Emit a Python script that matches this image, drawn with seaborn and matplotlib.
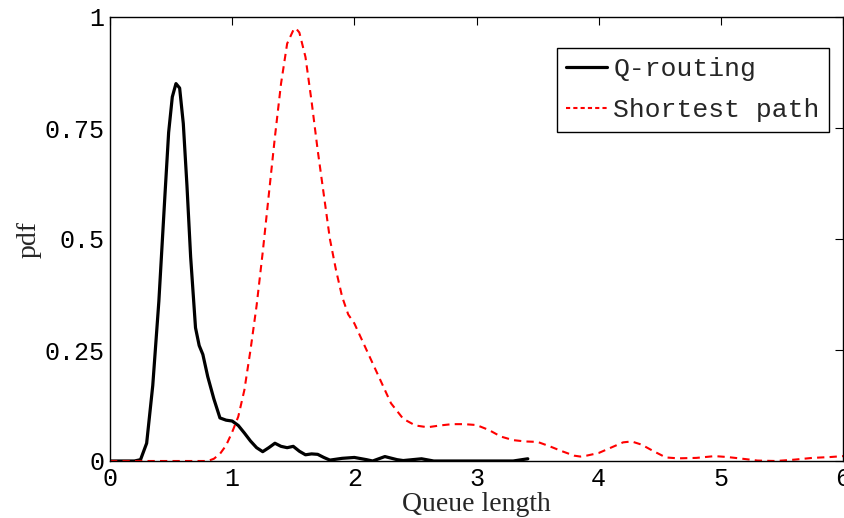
import numpy as np
import pandas as pd
import matplotlib
matplotlib.use("Agg")
import matplotlib.pyplot as plt
import seaborn as sns

# Q-routing pdf
q_x = [0.0, 0.2, 0.25, 0.3, 0.35, 0.4, 0.45, 0.48, 0.51, 0.54, 0.57, 0.6, 0.63, 0.66, 0.7, 0.73, 0.76,
       0.8, 0.85, 0.9, 0.95, 1.0, 1.05, 1.1, 1.15, 1.2, 1.25, 1.3, 1.35, 1.4, 1.45, 1.5,
       1.55, 1.6, 1.65, 1.7, 1.75, 1.8, 1.9, 2.0, 2.1, 2.15, 2.25, 2.35, 2.4, 2.55, 2.65,
       3.3, 3.42]
q_y = [0.0, 0.0, 0.003, 0.04, 0.17, 0.36, 0.6, 0.74, 0.82, 0.85, 0.84, 0.76, 0.62, 0.46, 0.3, 0.26, 0.24,
       0.19, 0.14, 0.097, 0.092, 0.09, 0.08, 0.063, 0.045, 0.03, 0.021, 0.03, 0.04, 0.033, 0.03, 0.033,
       0.022, 0.014, 0.016, 0.015, 0.008, 0.002, 0.006, 0.008, 0.003, 0.0, 0.01, 0.003, 0.001, 0.005, 0.0,
       0.0, 0.005]

# Shortest path pdf
s_x = [0.0, 0.8, 0.85, 0.9, 0.95, 1.0, 1.05, 1.1, 1.15, 1.2, 1.25, 1.3, 1.35, 1.4, 1.45, 1.5,
       1.52, 1.55, 1.6, 1.65, 1.7, 1.75, 1.8, 1.85, 1.9, 1.95, 2.0, 2.05, 2.1, 2.2, 2.3, 2.4,
       2.5, 2.6, 2.7, 2.8, 2.9, 3.0, 3.1, 3.2, 3.3, 3.4, 3.5, 3.6, 3.7, 3.8, 3.85, 3.9, 4.0,
       4.1, 4.2, 4.27, 4.35, 4.45, 4.55, 4.65, 4.8, 4.95, 5.05, 5.15, 5.3, 5.45, 5.6, 5.75, 5.9, 6.0]
s_y = [0.0, 0.0, 0.005, 0.016, 0.035, 0.065, 0.1, 0.16, 0.25, 0.35, 0.47, 0.6, 0.73, 0.85, 0.94, 0.97,
       0.975, 0.965, 0.91, 0.81, 0.7, 0.6, 0.5, 0.43, 0.37, 0.33, 0.31, 0.28, 0.25, 0.19, 0.13, 0.095,
       0.08, 0.076, 0.08, 0.083, 0.083, 0.081, 0.07, 0.055, 0.047, 0.044, 0.043, 0.033, 0.022, 0.012, 0.01, 0.012, 0.018,
       0.03, 0.042, 0.044, 0.037, 0.022, 0.008, 0.006, 0.007, 0.011, 0.009, 0.006, 0.001, 0.0, 0.003, 0.007, 0.009, 0.011]

x_ticks = [0, 1, 2, 3, 4, 5, 6]
y_ticks = [0, 0.25, 0.5, 0.75, 1]
y_tick_labels = ["0", "0.25", "0.5", "0.75", "1"]

sns.set_style("white")
plt.rcParams["font.family"] = ["Liberation Mono", "DejaVu Sans Mono"]

fig = plt.figure(figsize=(8.44, 5.18), dpi=100)
ax = fig.add_axes([110 / 844, 57 / 518, 733 / 844, 444 / 518])

df_q = pd.DataFrame({"x": q_x, "y": q_y})
df_s = pd.DataFrame({"x": s_x, "y": s_y})

sns.lineplot(data=df_q, x="x", y="y", ax=ax, color="black", linewidth=2.3,
             label="Q-routing", estimator=None, sort=False)
sns.lineplot(data=df_s, x="x", y="y", ax=ax, color="#ff0000", linewidth=1.5,
             label="Shortest path", estimator=None, sort=False, dashes=False)
ax.lines[1].set_dashes((3.5, 2.5))

ax.set_xlim(0, 6)
ax.set_ylim(0, 1)
ax.set_xticks(x_ticks)
ax.set_yticks(y_ticks)
ax.set_xticklabels([str(t) for t in x_ticks])
ax.set_yticklabels(y_tick_labels)
ax.tick_params(direction="in", length=6, width=0.8, top=True, right=True,
               labelsize=18, pad=4, colors="black")
for s in ax.spines.values():
    s.set_visible(True)
    s.set_color("black")
    s.set_linewidth(1.0)

ax.set_xlabel("Queue length", family=["Liberation Serif"], fontsize=20, labelpad=1)
ax.set_ylabel("pdf", family=["Liberation Serif"], fontsize=20, labelpad=2)

leg = ax.legend(loc="upper right", bbox_to_anchor=(0.981, 0.93), fontsize=19,
                frameon=True, fancybox=False, edgecolor="black", framealpha=1,
                handlelength=1.55, handletextpad=0.25, borderpad=0.35, labelspacing=0.65,
                borderaxespad=0)
leg.get_frame().set_linewidth(1.0)
leg.legend_handles[1].set_dashes((2, 1.5))

fig.savefig("out.png", dpi=100, facecolor="white")
